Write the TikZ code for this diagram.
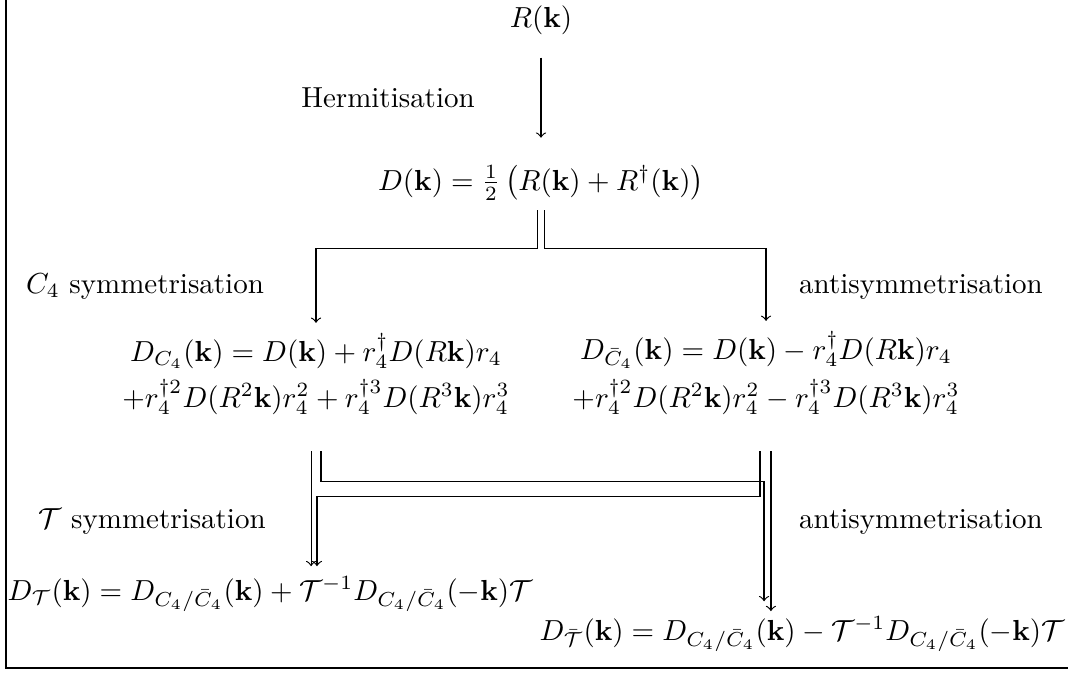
\documentclass[tikz,border=0pt]{standalone}
\usepackage{amsmath,amssymb}
\usepackage{tikz}

\begin{document}
\begin{tikzpicture}[x=0.345pt, y=-0.345pt, every node/.style={anchor=base}, >=to]
	\useasboundingbox (0,0) rectangle (1068,675);
	\draw (6,-10) |- (1080,668);
	% rows of the scheme
	\node (R) at (541,27) {$R(\mathbf{k})$};
	\node (herm) at (388,107) {Hermitisation};
	\node (D) at (541,190) {$D(\mathbf{k}) = \frac{1}{2}\left(R(\mathbf{k}) + R^\dagger(\mathbf{k})\right)$};
	\node (c4lab) at (145,293) {$C_4$ symmetrisation};
	\node (alab1) at (921,293) {antisymmetrisation};
	\node[align=center] (dc4) at (316,407) {$D_{C_4}(\mathbf{k}) = D(\mathbf{k}) + r_4^\dagger D(R\mathbf{k}) r_4$\\[2.5pt]
		$+r_4^{\dagger2} D(R^2\mathbf{k}) r_4^2 + r_4^{\dagger3} D(R^3\mathbf{k}) r_4^3$};
	\node[align=center] (dc4b) at (766,407) {$D_{\bar{C}_4}(\mathbf{k}) = D(\mathbf{k}) - r_4^\dagger D(R\mathbf{k}) r_4$\\[2.5pt]
		$+r_4^{\dagger2} D(R^2\mathbf{k}) r_4^2 - r_4^{\dagger3} D(R^3\mathbf{k}) r_4^3$};
	\node (tlab) at (152,528) {$\mathcal{T}$ symmetrisation};
	\node (alab2) at (921,528) {antisymmetrisation};
	\node (dt) at (270,600) {$D_{\mathcal{T}}(\mathbf{k}) = D_{C_4/\bar{C}_4}(\mathbf{k}) + \mathcal{T}^{-1} D_{C_4/\bar{C}_4}(-\mathbf{k})\mathcal{T}$};
	\node (dtb) at (802,640) {$D_{\bar{\mathcal{T}}}(\mathbf{k}) = D_{C_4/\bar{C}_4}(\mathbf{k}) - \mathcal{T}^{-1} D_{C_4/\bar{C}_4}(-\mathbf{k})\mathcal{T}$};
	% arrows
	\draw[->, shorten <=4.5pt, shorten >=6pt] (R) -- (D);
	\draw[->] ([xshift=-1.3pt]D.south) -- ++(0,38) -| (dc4.north);
	\draw[->] ([xshift=1.3pt]D.south) -- ++(0,38) -| (dc4b.north);
	\coordinate (a) at ([xshift=-1.7pt,yshift=-9pt]dc4.south);
	\coordinate (c) at ([xshift=1.7pt,yshift=-9pt]dc4.south);
	\coordinate (b) at ([xshift=-2.1pt,yshift=-9pt]dc4b.south);
	\coordinate (d) at ([xshift=1.7pt,yshift=-9pt]dc4b.south);
	\draw[->] (a) -- (a |- dt.north);
	\draw[->] (c) -- ++(0,30) -| ([xshift=-13.1pt,yshift=1.7pt]dtb.north);
	\draw[->] (b) -- ++(0,45) -| ([xshift=16.2pt]dt.north);
	\draw[->, shorten >=-1.7pt] (d) -- (d |- dtb.north);
\end{tikzpicture}
\end{document}
